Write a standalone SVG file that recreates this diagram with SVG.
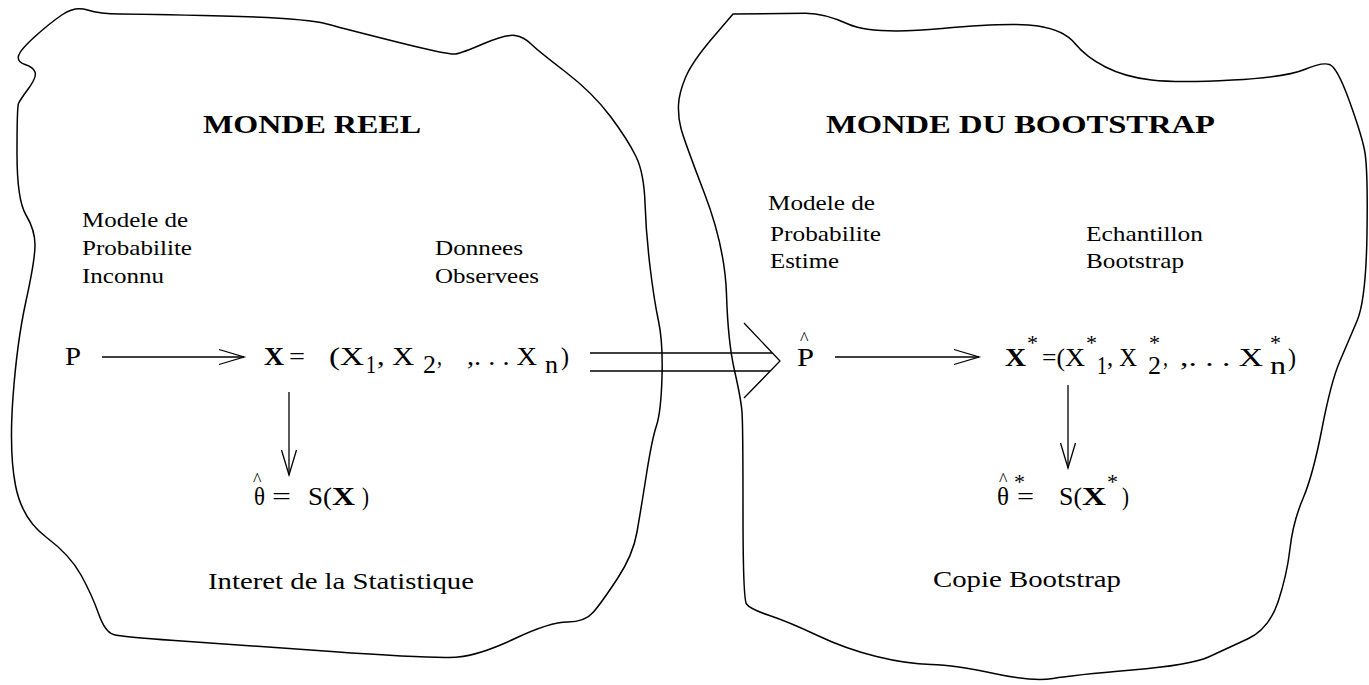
<svg xmlns="http://www.w3.org/2000/svg" width="1369" height="685" viewBox="0 0 1369 685">
<defs>
<style>
.blob{fill:none;stroke:#000;stroke-width:1.5;stroke-linejoin:round}
.ln{fill:none;stroke:#000;stroke-width:1.3}
.t{font-family:"Liberation Serif","Times New Roman",serif;font-size:22px;fill:#000}
.b{font-family:"Liberation Serif","Times New Roman",serif;font-size:25px;font-weight:bold;fill:#000}
.bl{font-family:"Liberation Serif","Times New Roman",serif;font-size:24px;fill:#000}
.f{font-family:"Liberation Serif","Times New Roman",serif;font-size:25px;fill:#000}
.fb{font-weight:bold}
.th{font-size:26px}
.s{font-size:22px}
.h{font-size:18px}
</style>
<marker id="vee" markerUnits="userSpaceOnUse" markerWidth="30" markerHeight="20" viewBox="-27 -10 30 20" refX="0" refY="0" orient="auto" overflow="visible">
<path d="M-25,-7.5 L0,0 L-25,7.5" fill="none" stroke="#000" stroke-width="1.3"/>
</marker>
</defs>

<g id="monde-reel">
<path class="blob" d="M62.5,14.5 Q75,6 87.5,10 Q100,14 120,14 Q140,14 222.5,16 Q305,18 327,24 Q349,30 399,42.5 Q449,55 455.5,54 Q462,53 484,43.5 Q506,34 515,35.5 Q524,37 530.5,43.5 Q537,50 565,71.5 Q593,93 610.5,116.5 Q628,140 636,156.5 Q644,173 645,203 Q646,233 650,266.5 Q654,300 658.5,321 Q663,342 662,377 Q661,412 656.5,425.5 Q652,439 646.5,474 Q641,509 637,532 Q633,555 617.5,578.5 Q602,602 593.5,612 Q585,622 567.5,622 Q550,622 515,638.5 Q480,655 458,657 Q436,659 331.5,651.5 Q227,644 174.5,640.5 Q122,637 113.5,634.5 Q105,632 98.5,613.5 Q92,595 81,575 Q70,555 46,537 Q22,519 15.5,485.5 Q9,452 13,397 Q17,342 26,301 Q35,260 35,245 Q35,230 26,215 Q17,200 17,153.5 Q17,107 18.5,103.5 Q20,100 28.5,88.5 Q37,77 35,72 Q33,67 25,64.5 Q17,62 18.5,56 Q20,50 35,36.5 Q50,23 62.5,14.5 Z"/>
<text class="b" x="203" y="133" textLength="218" lengthAdjust="spacingAndGlyphs">MONDE REEL</text>
</g>

<g id="modele-inconnu">
<text class="t" x="82" y="227" textLength="106" lengthAdjust="spacingAndGlyphs">Modele de</text>
<text class="t" x="82" y="255" textLength="110" lengthAdjust="spacingAndGlyphs">Probabilite</text>
<text class="t" x="82" y="283" textLength="82" lengthAdjust="spacingAndGlyphs">Inconnu</text>
</g>

<g id="donnees">
<text class="t" x="435" y="255" textLength="88" lengthAdjust="spacingAndGlyphs">Donnees</text>
<text class="t" x="435" y="283" textLength="104" lengthAdjust="spacingAndGlyphs">Observees</text>
</g>

<g id="P">
<text class="f" x="65" y="365" textLength="16" lengthAdjust="spacingAndGlyphs">P</text>
</g>

<g id="X">
<text class="f"><tspan class="fb" x="264" y="365" textLength="20" lengthAdjust="spacingAndGlyphs">X</tspan><tspan x="289" y="365" textLength="16" lengthAdjust="spacingAndGlyphs">=</tspan><tspan x="329" y="365" textLength="35" lengthAdjust="spacingAndGlyphs">(X</tspan><tspan x="366" y="373" textLength="10" lengthAdjust="spacingAndGlyphs">1</tspan><tspan x="377" y="365" textLength="37" lengthAdjust="spacingAndGlyphs">, X</tspan><tspan x="423" y="373" textLength="13" lengthAdjust="spacingAndGlyphs">2</tspan><tspan x="437" y="365" textLength="5" lengthAdjust="spacingAndGlyphs">,</tspan><tspan x="467" y="365" textLength="70" lengthAdjust="spacingAndGlyphs">,. . . X</tspan><tspan x="545" y="373" textLength="13" lengthAdjust="spacingAndGlyphs">n</tspan><tspan x="561" y="365" textLength="8" lengthAdjust="spacingAndGlyphs">)</tspan></text>
</g>

<g id="theta">
<text class="f"><tspan class="h" x="253" y="486">^</tspan><tspan class="th" x="254" y="505" textLength="11" lengthAdjust="spacingAndGlyphs">θ</tspan><tspan x="272" y="505" textLength="19" lengthAdjust="spacingAndGlyphs">=</tspan><tspan x="308" y="505" textLength="24" lengthAdjust="spacingAndGlyphs">S(</tspan><tspan class="fb" x="332" y="505" textLength="23" lengthAdjust="spacingAndGlyphs">X</tspan><tspan x="362" y="505" textLength="7" lengthAdjust="spacingAndGlyphs">)</tspan></text>
</g>

<g id="interet">
<text class="bl" x="208" y="589" textLength="266" lengthAdjust="spacingAndGlyphs">Interet de la Statistique</text>
</g>

<g id="monde-bootstrap">
<path class="blob" d="M733,14 L805,13.2 Q824,13 848,24 Q872,35 942,28.5 Q1012,22 1038,26 Q1064,30 1075,43.5 Q1086,57 1105.5,67 Q1125,77 1151.5,80 Q1178,83 1232.5,80 Q1287,77 1304.5,69.5 Q1322,62 1329.5,64.5 Q1337,67 1349,100 Q1361,133 1364.5,150 Q1368,167 1367,233.5 Q1366,300 1357,321 Q1348,342 1339.5,362 Q1331,382 1322,428.5 Q1313,475 1303,498.5 Q1293,522 1290,548.5 Q1287,575 1278,602 Q1269,629 1247.5,639 Q1226,649 1208.5,657 Q1191,665 1132,670 Q1073,675 1053,678.5 Q1033,682 994,673.5 Q955,665 931,664.5 Q907,664 876.5,656.5 Q846,649 817.5,635.5 Q789,622 769.5,615.5 Q750,609 746.5,604 Q743,599 743,512 Q743,425 742,412 Q741,399 734.5,370.5 Q728,342 726.5,294.5 Q725,247 704.5,193.5 Q684,140 681,128.5 Q678,117 678.5,105 Q679,93 685.5,77.5 Q692,62 712.5,38 L733,14 Z"/>
<text class="b" x="826" y="133" textLength="389" lengthAdjust="spacingAndGlyphs">MONDE DU BOOTSTRAP</text>
</g>

<g id="modele-estime">
<text class="t" x="768" y="210" textLength="107" lengthAdjust="spacingAndGlyphs">Modele de</text>
<text class="t" x="770" y="241" textLength="111" lengthAdjust="spacingAndGlyphs">Probabilite</text>
<text class="t" x="770" y="268" textLength="69" lengthAdjust="spacingAndGlyphs">Estime</text>
</g>

<g id="echantillon">
<text class="t" x="1086" y="241" textLength="117" lengthAdjust="spacingAndGlyphs">Echantillon</text>
<text class="t" x="1086" y="268" textLength="98" lengthAdjust="spacingAndGlyphs">Bootstrap</text>
</g>

<g id="P-hat">
<text class="f"><tspan class="h" x="800" y="345">^</tspan><tspan x="797" y="366" textLength="17" lengthAdjust="spacingAndGlyphs">P</tspan></text>
</g>

<g id="X-star">
<text class="f"><tspan class="fb" x="1005" y="366" textLength="21" lengthAdjust="spacingAndGlyphs">X</tspan><tspan class="s" x="1027" y="350">*</tspan><tspan x="1042" y="366" textLength="23" lengthAdjust="spacingAndGlyphs">=(</tspan><tspan x="1065" y="366" textLength="20" lengthAdjust="spacingAndGlyphs">X</tspan><tspan class="s" x="1086" y="350">*</tspan><tspan x="1097" y="374" textLength="10" lengthAdjust="spacingAndGlyphs">1</tspan><tspan x="1107" y="366" textLength="30" lengthAdjust="spacingAndGlyphs">, X</tspan><tspan class="s" x="1149" y="350">*</tspan><tspan x="1148" y="374" textLength="13" lengthAdjust="spacingAndGlyphs">2</tspan><tspan x="1163" y="366" textLength="5" lengthAdjust="spacingAndGlyphs">,</tspan><tspan x="1180" y="366" textLength="83" lengthAdjust="spacingAndGlyphs">,. . . X</tspan><tspan class="s" x="1270" y="350">*</tspan><tspan x="1270" y="374" textLength="16" lengthAdjust="spacingAndGlyphs">n</tspan><tspan x="1288" y="366" textLength="8" lengthAdjust="spacingAndGlyphs">)</tspan></text>
</g>

<g id="theta-star">
<text class="f"><tspan class="h" x="999" y="486">^</tspan><tspan class="s" x="1014" y="489">*</tspan><tspan class="th" x="997" y="505" textLength="12" lengthAdjust="spacingAndGlyphs">θ</tspan><tspan x="1017" y="505" textLength="17" lengthAdjust="spacingAndGlyphs">=</tspan><tspan x="1059" y="505" textLength="23" lengthAdjust="spacingAndGlyphs">S(</tspan><tspan class="fb" x="1082" y="505" textLength="24" lengthAdjust="spacingAndGlyphs">X</tspan><tspan class="s" x="1107" y="489">*</tspan><tspan x="1122" y="505" textLength="7" lengthAdjust="spacingAndGlyphs">)</tspan></text>
</g>

<g id="copie">
<text class="bl" x="933" y="587" textLength="188" lengthAdjust="spacingAndGlyphs">Copie Bootstrap</text>
</g>

<g id="connectors">
<line class="ln" x1="102" y1="357" x2="244" y2="357" marker-end="url(#vee)"/>
<line class="ln" x1="289" y1="392" x2="289" y2="475" marker-end="url(#vee)"/>
<line class="ln" x1="835" y1="357" x2="979" y2="357" marker-end="url(#vee)"/>
<line class="ln" x1="1068" y1="385" x2="1068" y2="468" marker-end="url(#vee)"/>
<line class="ln" x1="590" y1="353" x2="772" y2="353"/>
<line class="ln" x1="590" y1="371" x2="770" y2="371"/>
<polyline class="ln" points="744,323 780,361 744,398"/>
</g>
</svg>
